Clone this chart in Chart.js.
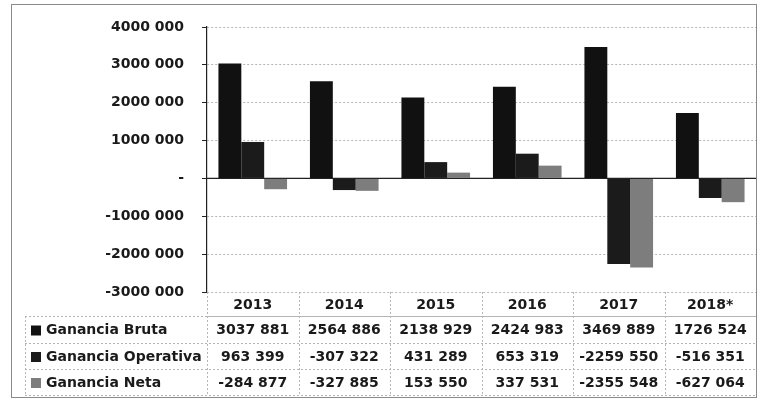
<!DOCTYPE html>
<html>
<head>
<meta charset="utf-8">
<script src="https://cdn.jsdelivr.net/npm/chart.js@4/dist/chart.umd.min.js"></script>
<style>
  html, body { margin: 0; padding: 0; background: #fff; }
  #wrap { width: 759px; height: 403px; }
</style>
</head>
<body>
<div id="wrap"><canvas id="gananciasChart" width="759" height="403"></canvas></div>
<script>
var years = ["2013", "2014", "2015", "2016", "2017", "2018*"];
var seriesNames = ["Ganancia Bruta", "Ganancia Operativa", "Ganancia Neta"];
var gananciaBruta = [3037881, 2564886, 2138929, 2424983, 3469889, 1726524];
var gananciaOperativa = [963399, -307322, 431289, 653319, -2259550, -516351];
var gananciaNeta = [-284877, -327885, 153550, 337531, -2355548, -627064];
var seriesColors = ["#111111", "#1b1b1b", "#7d7d7d"];

var tableFont = "bold 14px 'DejaVu Sans'";
var textColor = "#1a1a1a";
var gridColor = "#b5b5b5";

// "3037 881" style, zero shown as a dash
function fmt(v) {
    if (v === 0) return "-";
    var a = Math.abs(v);
    var hi = Math.floor(a / 1000);
    var lo = String(a % 1000);
    while (lo.length < 3) lo = "0" + lo;
    return (v < 0 ? "-" : "") + (hi > 0 ? hi + " " + lo : String(a));
}

// zero line, outer frame and the data table under the plot
var tablePlugin = {
    id: "dataTable",
    beforeDatasetsDraw: function (chart) {
        var ctx = chart.ctx, area = chart.chartArea;
        var y0 = chart.scales.y.getPixelForValue(0);
        ctx.save();
        ctx.strokeStyle = "#222";
        ctx.lineWidth = 1.2;
        ctx.beginPath();
        ctx.moveTo(area.left, y0);
        ctx.lineTo(area.right, y0);
        ctx.stroke();
        ctx.restore();
    },
    afterDraw: function (chart) {
        var ctx = chart.ctx, area = chart.chartArea;
        var xs = chart.scales.x;
        var n = years.length;
        var colW = xs.width / n;
        var headTop = area.bottom, headBot = 316;
        var rowBounds = [316, 343, 369, 395];
        var legendLeft = 25;
        var rows = [gananciaBruta, gananciaOperativa, gananciaNeta];

        ctx.save();
        // grid of the table
        ctx.strokeStyle = gridColor;
        ctx.lineWidth = 1;
        ctx.setLineDash([2, 2]);
        ctx.beginPath();
        ctx.moveTo(area.left, headBot + 0.5);
        ctx.lineTo(area.right, headBot + 0.5);
        for (var r = 0; r < rowBounds.length; r++) {
            ctx.moveTo(legendLeft, rowBounds[r] + 0.5);
            ctx.lineTo(area.right, rowBounds[r] + 0.5);
        }
        ctx.moveTo(legendLeft + 0.5, rowBounds[0]);
        ctx.lineTo(legendLeft + 0.5, rowBounds[3]);
        for (var i = 0; i <= n; i++) {
            var x = Math.round(xs.left + i * colW) + 0.5;
            ctx.moveTo(x, headTop);
            ctx.lineTo(x, rowBounds[3]);
        }
        ctx.stroke();
        ctx.setLineDash([]);

        // header years
        ctx.font = tableFont;
        ctx.fillStyle = textColor;
        ctx.textAlign = "center";
        ctx.textBaseline = "middle";
        for (var j = 0; j < n; j++) {
            ctx.fillText(years[j], xs.getPixelForValue(j), (headTop + headBot) / 2 + 1);
        }

        // rows: legend key + values
        for (var k = 0; k < rows.length; k++) {
            var yc = (rowBounds[k] + rowBounds[k + 1]) / 2 + 1;
            ctx.fillStyle = seriesColors[k];
            ctx.fillRect(31, yc - 5, 10, 10);
            ctx.fillStyle = textColor;
            ctx.textAlign = "left";
            ctx.fillText(seriesNames[k], 46, yc);
            ctx.textAlign = "center";
            for (var c = 0; c < n; c++) {
                ctx.fillText(fmt(rows[k][c]), xs.getPixelForValue(c), yc);
            }
        }

        // outer frame
        ctx.strokeStyle = "#8a8a8a";
        ctx.lineWidth = 1;
        ctx.strokeRect(11.5, 4.5, 745, 393);
        ctx.restore();
    }
};

var gananciasCtx = document.getElementById("gananciasChart");

var gananciasData = {
    labels: years,
    datasets: [
        { label: seriesNames[0], data: gananciaBruta, backgroundColor: seriesColors[0] },
        { label: seriesNames[1], data: gananciaOperativa, backgroundColor: seriesColors[1] },
        { label: seriesNames[2], data: gananciaNeta, backgroundColor: seriesColors[2] }
    ]
};

var gananciasChart = new Chart(gananciasCtx, {
    type: "bar",
    data: gananciasData,
    plugins: [tablePlugin],
    options: {
        responsive: false,
        animation: false,
        layout: { padding: { top: 27, right: 3, bottom: 111, left: 0 } },
        datasets: { bar: { categoryPercentage: 0.75, barPercentage: 1.0 } },
        plugins: { legend: { display: false }, tooltip: { enabled: false } },
        scales: {
            x: { display: false },
            y: {
                min: -3000000,
                max: 4000000,
                ticks: {
                    stepSize: 1000000,
                    padding: 18,
                    color: textColor,
                    font: { family: "DejaVu Sans", size: 14, weight: "bold" },
                    callback: function (v) { return fmt(v); }
                },
                grid: { color: gridColor, tickColor: "#222", tickLength: 5, lineWidth: 1 },
                border: { display: true, color: "#222", width: 1.2, dash: [2, 2] },
                afterFit: function (scale) { scale.width = 207; }
            }
        }
    }
});
</script>
</body>
</html>
